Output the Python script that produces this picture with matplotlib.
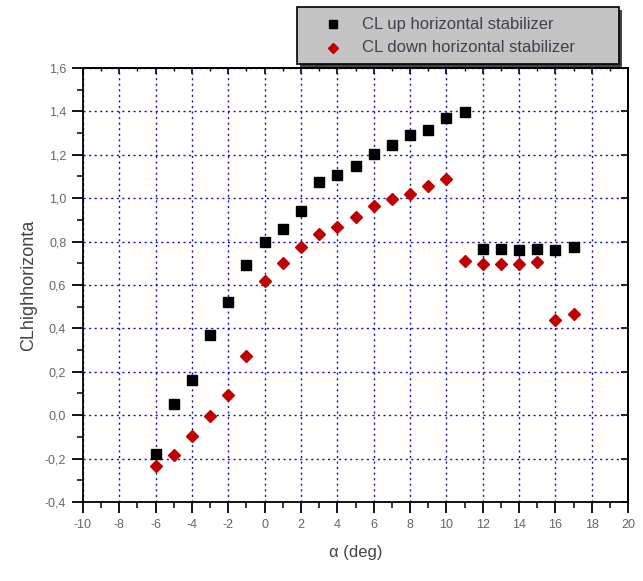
import matplotlib
matplotlib.use("Agg")
import matplotlib.pyplot as plt
from matplotlib.ticker import MultipleLocator, FuncFormatter, NullFormatter
from matplotlib.lines import Line2D
from matplotlib.patches import Rectangle

plt.rcParams['font.family'] = ['Liberation Sans', 'DejaVu Sans']

alpha_up = [-6, -5, -4, -3, -2, -1, 0, 1, 2, 3, 4, 5, 6, 7, 8, 9, 10, 11, 12, 13, 14, 15, 16, 17]
cl_up = [-0.18, 0.05, 0.16, 0.37, 0.52, 0.69, 0.80, 0.86, 0.94, 1.075, 1.105, 1.15, 1.205, 1.245, 1.29, 1.315, 1.37, 1.395,
         0.765, 0.765, 0.76, 0.765, 0.76, 0.775]
alpha_down = [-6, -5, -4, -3, -2, -1, 0, 1, 2, 3, 4, 5, 6, 7, 8, 9, 10, 11, 12, 13, 14, 15, 16, 17]
cl_down = [-0.235, -0.185, -0.095, -0.005, 0.095, 0.275, 0.62, 0.70, 0.775, 0.835, 0.865, 0.915, 0.965, 0.995, 1.02, 1.055, 1.09,
           0.71, 0.695, 0.695, 0.695, 0.705, 0.44, 0.465]
legend_labels = ["CL up horizontal stabilizer", "CL down horizontal stabilizer"]

W, H = 643, 581
fig = plt.figure(figsize=(W/100, H/100), dpi=100)
ax = fig.add_axes([83/W, 1-502/H, (628-83)/W, (502-68)/H])

ax.set_xlim(-10, 20)
ax.set_ylim(-0.4, 1.6)
ax.xaxis.set_major_locator(MultipleLocator(2))
ax.xaxis.set_minor_locator(MultipleLocator(1))
ax.yaxis.set_major_locator(MultipleLocator(0.2))
ax.yaxis.set_minor_locator(MultipleLocator(0.1))
ax.yaxis.set_major_formatter(FuncFormatter(lambda v, p: f"{v:.1f}".replace('.', ',').replace('-0,0', '0,0')))
ax.xaxis.set_major_formatter(FuncFormatter(lambda v, p: f"{v:.0f}"))

ax.grid(True, which='major', color='#1010c0', linestyle=(0, (1.5, 2.5)), linewidth=1.0)
ax.set_axisbelow(True)

ax.tick_params(which='major', direction='out', length=8, width=1.3, labelsize=9, labelcolor='#666666', pad=4)
ax.tick_params(which='minor', direction='out', length=4, width=1.1)
for s in ax.spines.values():
    s.set_linewidth(1.3)

# inward ticks on top and right
top = ax.secondary_xaxis('top')
top.xaxis.set_major_locator(MultipleLocator(2))
top.xaxis.set_minor_locator(MultipleLocator(1))
top.xaxis.set_major_formatter(NullFormatter())
top.tick_params(which='major', direction='in', length=4, width=1.2)
top.tick_params(which='minor', direction='in', length=2.5, width=1.0)
right = ax.secondary_yaxis('right')
right.yaxis.set_major_locator(MultipleLocator(0.2))
right.yaxis.set_minor_locator(MultipleLocator(0.1))
right.yaxis.set_major_formatter(NullFormatter())
right.tick_params(which='major', direction='in', length=5, width=1.2)
right.tick_params(which='minor', direction='in', length=0)
for sa in (top, right):
    for s in sa.spines.values():
        s.set_linewidth(1.3)

ax.plot(alpha_up, cl_up, linestyle='none', marker='s', markersize=6.5, color='black', zorder=3)
ax.plot(alpha_down, cl_down, linestyle='none', marker='D', markersize=6, color='#c00000', zorder=3)

ax.set_ylabel("CLhighhorizonta", fontsize=13, color='#444444', labelpad=6)
ax.set_xlabel("α (deg)", fontsize=12, color='#444444', labelpad=10)

# legend box
lx0, ly0, lw, lh = 297/W, 1-64/H, (619-297)/W, (64-7)/H
fig.patches.append(Rectangle((lx0+3/W, ly0-3/H), lw, lh, transform=fig.transFigure,
                             facecolor='#444444', edgecolor='none', zorder=4))
fig.patches.append(Rectangle((lx0, ly0), lw, lh, transform=fig.transFigure,
                             facecolor='#c4c4c4', edgecolor='black', linewidth=1.2, zorder=5))
fig.lines.append(Line2D([333/W], [1-24/H], marker='s', markersize=6, color='black',
                        transform=fig.transFigure, zorder=6))
fig.lines.append(Line2D([333/W], [1-48/H], marker='D', markersize=5.5, color='#c00000',
                        transform=fig.transFigure, zorder=6))
fig.text(362/W, 1-24/H, legend_labels[0], fontsize=12, color='#404050', va='center', zorder=6)
fig.text(362/W, 1-48/H, legend_labels[1], fontsize=12, color='#404050', va='center', zorder=6)

fig.savefig("out.png", dpi=100)
